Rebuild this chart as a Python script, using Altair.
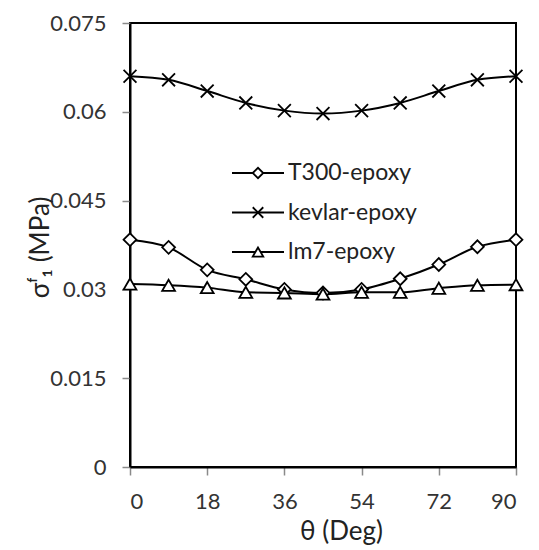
import altair as alt
import pandas as pd

theta = [0, 9, 18, 27, 36, 45, 54, 63, 72, 81, 90]
t300 = [0.0384, 0.0371, 0.0333, 0.0317, 0.0300, 0.0294, 0.0300, 0.0318, 0.0342, 0.0372, 0.0384]
kevlar = [0.0660, 0.0654, 0.0635, 0.0615, 0.0602, 0.0597, 0.0602, 0.0615, 0.0635, 0.0654, 0.0660]
lm7 = [0.0309, 0.0307, 0.0303, 0.0295, 0.0294, 0.0292, 0.0295, 0.0295, 0.0302, 0.0307, 0.0308]
series = ["T300-epoxy", "kevlar-epoxy", "lm7-epoxy"]
y_ticks = [0, 0.015, 0.03, 0.045, 0.06, 0.075]
x_ticks = [0, 18, 36, 54, 72, 90]

rows = []
for name, vals in zip(series, [t300, kevlar, lm7]):
    for t, v in zip(theta, vals):
        rows.append({"theta": t, "value": v, "series": name})
df = pd.DataFrame(rows)
legend_df = pd.DataFrame({"series": series})

FONT = "Lato"
PLOT_TOP = 15
H = 444

x_enc = alt.X("theta:Q", scale=alt.Scale(domain=[0, 90], nice=False),
              axis=alt.Axis(values=x_ticks, title="θ (Deg)", grid=False,
                            titleX=211, titleY=72, titleBaseline="alphabetic",
                            titleAnchor=None, labelPadding=16))
y_enc = alt.Y("value:Q", scale=alt.Scale(domain=[0, 0.075], nice=False),
              axis=alt.Axis(values=y_ticks, format=".3~f", title="σᶠ₁ (MPa)", grid=False,
                            titleX=-90, titleY=224, titleAngle=270, titleBaseline="middle",
                            titleAlign="center", labelPadding=16))

shape_scale = alt.Scale(domain=series, range=["diamond", "M-1,-1L1,1M-1,1L1,-1", "triangle-up"])

lines = alt.Chart(df).mark_line(color="black", strokeWidth=2, interpolate="monotone").encode(
    x=x_enc, y=y_enc, detail="series:N"
)

points = alt.Chart(df).mark_point(filled=False, fill="white", stroke="black", strokeWidth=1.8,
                                  opacity=1, size=165).encode(
    x="theta:Q", y="value:Q",
    shape=alt.Shape("series:N", scale=shape_scale, legend=None),
)

data_layer = alt.layer(lines, points)

# legend built from library marks, rows placed by an ordinal scale
row_y = alt.Y("series:N", scale=alt.Scale(type="point", domain=series, range=[150, 229], padding=0),
              axis=None)
leg_lines = alt.Chart(legend_df).mark_rule(color="black", strokeWidth=2).encode(
    x=alt.value(102), x2=alt.value(154), y=row_y
)
leg_points = alt.Chart(legend_df).mark_point(filled=False, fill="white", stroke="black",
                                             strokeWidth=1.8, opacity=1, size=110).encode(
    x=alt.value(128), y=row_y,
    shape=alt.Shape("series:N", scale=shape_scale, legend=None),
)
leg_text = alt.Chart(legend_df).mark_text(align="left", baseline="middle", font=FONT,
                                          fontSize=23, color="#222").encode(
    x=alt.value(158), y=row_y, text="series:N"
)
legend = alt.layer(leg_lines, leg_points, leg_text)

chart = alt.layer(data_layer, legend).resolve_scale(y="independent").properties(
    width=386, height=H,
    autosize=alt.AutoSizeParams(type="none"),
    padding={"left": 122, "top": PLOT_TOP, "right": 15, "bottom": 80},
).configure_view(stroke="black", strokeWidth=2).configure_axis(
    domainColor="black", domainWidth=2, tickColor="#8a8a8a", tickWidth=1.5, tickSize=8,
    labelFont=FONT, labelFontSize=22, labelColor="#333",
    titleFont=FONT, titleFontSize=26, titleColor="#222", titleFontWeight="normal",
)

chart.save("out.html", embed_options={"renderer": "svg", "actions": False})
